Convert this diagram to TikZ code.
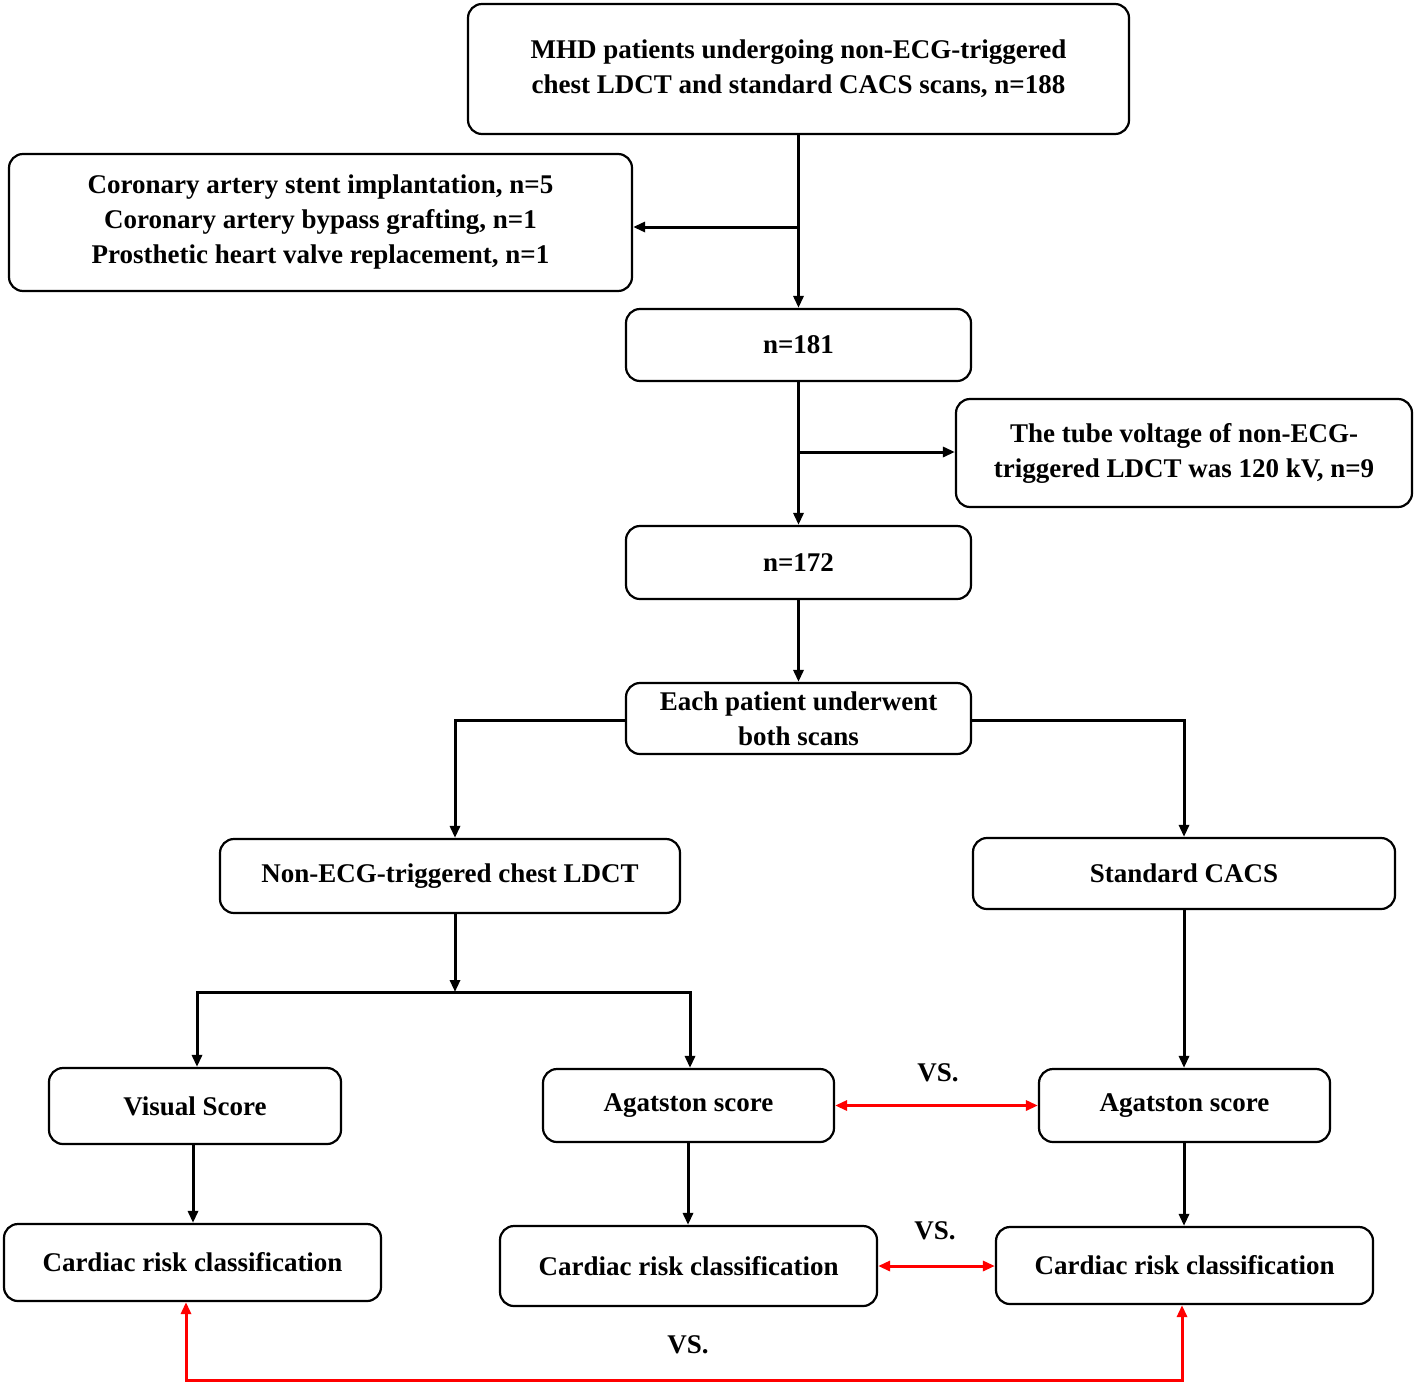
\documentclass[tikz,border=0pt]{standalone}
\usepackage{fontspec}
\setmainfont{Liberation Serif}
\usetikzlibrary{arrows.meta}
\begin{document}
\begin{tikzpicture}[x=0.5pt,y=-0.5pt,
  box/.style={draw,line width=1.1pt,rounded corners=7pt,align=center,font=\bfseries\fontsize{13.5}{17.5}\selectfont,inner sep=0pt},
  arr/.style={line width=1.5pt,-{Triangle[length=6pt,width=5pt]}},
  ln/.style={line width=1.5pt},
  red2/.style={line width=1.5pt,red,{Triangle[length=6pt,width=5pt]}-{Triangle[length=6pt,width=5pt]}},
  vs/.style={font=\bfseries\fontsize{13.5}{16}\selectfont}]
\useasboundingbox (0,0) rectangle (1416,1386);
\newcommand{\bx}[6]{\node[box,minimum width=#4*0.5pt-1pt,minimum height=#5*0.5pt-1pt] (#1) at ({(#2+#2+#4)/2},{(#3+#3+#5)/2}) {#6};}
\bx{top}{467}{3}{663}{132}{MHD patients undergoing non-ECG-triggered\\chest LDCT and standard CACS scans, n=188}
\bx{exc}{8}{153}{625}{139}{Coronary artery stent implantation, n=5\\Coronary artery bypass grafting, n=1\\Prosthetic heart valve replacement, n=1}
\bx{n181}{625}{308}{347}{74}{n=181}
\bx{tube}{955}{398}{458}{110}{The tube voltage of non-ECG-\\triggered LDCT was 120 kV, n=9}
\bx{n172}{625}{525}{347}{75}{n=172}
\bx{each}{625}{682}{347}{73}{Each patient underwent\\both scans}
\bx{nonecg}{219}{838}{462}{76}{Non-ECG-triggered chest LDCT}
\bx{std}{972}{837}{424}{73}{Standard CACS}
\bx{vis}{48}{1067}{294}{78}{Visual Score}
\bx{ag1}{542}{1068}{293}{75}{Agatston score}
\bx{ag2}{1038}{1068}{293}{75}{Agatston score}
\bx{c1}{3}{1223}{379}{79}{Cardiac risk classification}
\bx{c2}{499}{1225}{379}{82}{Cardiac risk classification}
\bx{c3}{995}{1226}{379}{79}{Cardiac risk classification}
\coordinate (j1) at (798,227);
\coordinate (j2) at (798,452);
\draw[arr] (top.south) -- (n181.north);
\draw[arr] (j1) -- (exc.east|-j1);
\draw[arr] (n181.south) -- (n172.north);
\draw[arr] (j2) -- (tube.west|-j2);
\draw[arr] (n172.south) -- (each.north);
\draw[arr] (each.west|-0,720) -| (nonecg.north-|455,0);
\draw[arr] (each.east|-0,720) -| (std.north-|1184,0);
\coordinate (j3) at (455,992);
\draw[arr] (nonecg.south-|j3) -- (j3);
\draw[arr] (j3) -- (197,992) -- (vis.north-|197,0);
\draw[arr] (j3) -- (690,992) -- (ag1.north-|690,0);
\draw[arr] (std.south-|1184,0) -- (ag2.north-|1184,0);
\draw[arr] (vis.south-|193,0) -- (c1.north-|193,0);
\draw[arr] (ag1.south-|688,0) -- (c2.north-|688,0);
\draw[arr] (ag2.south-|1184,0) -- (c3.north-|1184,0);
\draw[red2] (ag1.east) -- (ag2.west);
\draw[red2] (c2.east|-0,1266) -- (c3.west|-0,1266);
\draw[red2] (c1.south-|186,0) -- (186,1380) -- (1182,1380) -- (c3.south-|1182,0);
\node[vs] at (938,1073) {VS.};
\node[vs] at (935,1231) {VS.};
\node[vs] at (688,1345) {VS.};
\end{tikzpicture}
\end{document}
